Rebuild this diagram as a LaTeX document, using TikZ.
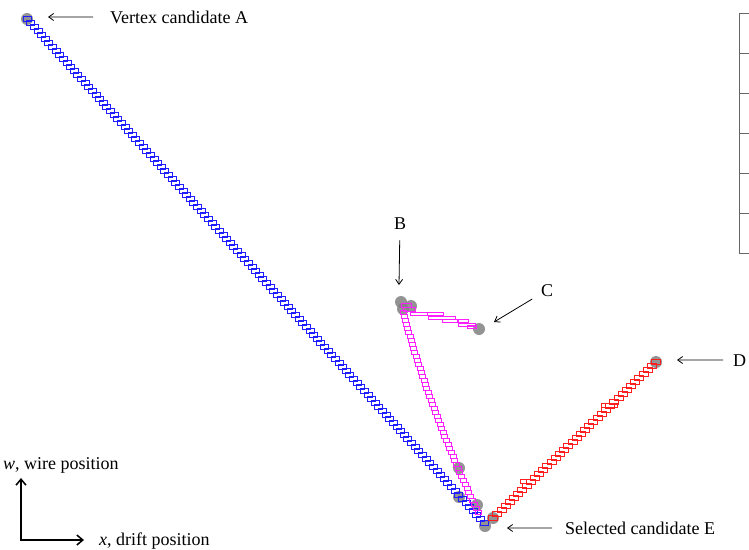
\documentclass[tikz,border=0pt]{standalone}
\usepackage{fontspec}
\setmainfont{Liberation Serif}
\usetikzlibrary{arrows.meta,positioning,calc}

\begin{document}
\begin{tikzpicture}[
  x=1pt, y=-1pt,
  font=\fontsize{18}{21}\selectfont,
  lbl/.style={inner sep=0pt},
  arr/.style={-{Straight Barb[length=5pt, width=7pt]}, line width=0.8pt, black},
  axis/.style={{Straight Barb[length=6pt, width=10pt]}-{Straight Barb[length=6pt, width=10pt]}, line width=1.5pt},
  cand/.style={circle, fill=black!50, fill opacity=0.85, minimum size=12pt, inner sep=0pt},
  hitb/.style={draw={rgb,255:red,30;green,30;blue,255}, line width=0.7pt},
  hitm/.style={draw={rgb,255:red,255;green,30;blue,255}, line width=0.7pt},
  hitr/.style={draw={rgb,255:red,255;green,30;blue,30}, line width=0.7pt},
  scl/.style={draw=black!60, line width=1pt}
]
\useasboundingbox (0,0) rectangle (749,549);

\node[cand] (A) at (27,19) {};
\node[cand] (B1) at (401,302) {};
\node[cand] (B2) at (411,306) {};
\node[cand] (B3) at (403,309) {};
\node[cand] (C) at (479,329) {};
\node[cand] (D) at (656,362) {};
\node[cand] (E) at (485,526) {};
\node[cand] (m1) at (459,468) {};
\node[cand] (m2) at (477,505) {};
\node[cand] (b1) at (459,497) {};
\node[cand] (r1) at (493,518) {};

\foreach \i in {0,...,126}{
  \pgfmathsetmacro{\yy}{19+4*\i}
  \pgfmathsetmacro{\xx}{27+3.627*\i}
  \draw[hitb] (\xx-4,\yy-2.2) rectangle ++(8,4.4);
}
\foreach \i in {0,...,50}{
  \pgfmathsetmacro{\tpar}{\i/50}
  \pgfmathsetmacro{\yy}{312+4*\i}
  \pgfmathsetmacro{\xx}{403+75*\tpar-20*\tpar*(1-\tpar)}
  \draw[hitm] (\xx-3,\yy-1.9) rectangle ++(6,3.8);
}
\foreach \xx/\yy/\ww/\hh in {401/303/10/4, 403/307/12/4, 410/312/17/3.5, 427/312/16/3.5,
    428/316/27/3, 442/319/16/3.5, 457/319/11/3.5, 458/323/17/3, 467/325/9/3}
  \draw[hitm] (\xx,\yy) rectangle ++(\ww,\hh);
\foreach \i in {0,...,39}{
  \pgfmathsetmacro{\yy}{518-4*\i}
  \pgfmathsetmacro{\xx}{493+4.18*\i}
  \draw[hitr] (\xx-4.5,\yy-2.2) rectangle ++(9,4.4);
}
\draw[hitr] (520,479) rectangle ++(6,4);
\draw[hitr] (601,403) rectangle ++(16,4);

\node[lbl, anchor=base west] (labA) at (110,23) {Vertex candidate A};
\node[lbl, anchor=base] (labB) at (400,229) {B};
\node[lbl, anchor=base] (labC) at (547,296) {C};
\node[lbl, anchor=base west] (labD) at (733,366) {D};
\node[lbl, anchor=base west] (labE) at (565,534) {Selected candidate E};
\node[lbl, anchor=base west] (labw) at (3,469) {\textit{w}, wire position};
\node[lbl, anchor=base west] (labx) at (99,545) {\textit{x}, drift position};

\coordinate (tipA) at (48,17);
\coordinate (tipB) at (399,285);
\coordinate (tipC) at (494,322);
\coordinate (tipD) at (677,360);
\coordinate (tipE) at (507,528);
\draw[arr, shorten <=17pt] (labA) -- (tipA);
\draw[arr, shorten <=11pt] (labB) -- (tipB);
\draw[arr, shorten <=10pt] (labC) -- (tipC);
\draw[arr, shorten <=10pt] (labD) -- (tipD);
\draw[arr, shorten <=13pt] (labE) -- (tipE);

\coordinate (orig) at (21,540);
\coordinate (wend) at (21,478);
\coordinate (xend) at (84,540);
\draw[axis] (wend) -- (orig) -- (xend);

\draw[scl] (739,13) -- (739,253);
\foreach \yy in {13,53,...,253}
  \draw[scl] (739,\yy) -- (749,\yy);
\end{tikzpicture}
\end{document}
